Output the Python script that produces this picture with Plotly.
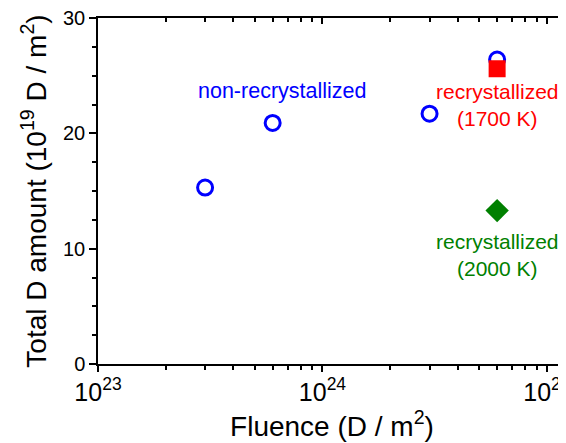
import numpy as np
import plotly.graph_objects as go

# Data
nonrx_fluence = [3e23, 6e23, 3e24, 6e24]
nonrx_amount = [15.3, 20.9, 21.7, 26.4]
rx1700_fluence = [6e24]
rx1700_amount = [25.6]
rx2000_fluence = [6e24]
rx2000_amount = [13.3]

BLUE = "rgb(0,0,255)"
RED = "rgb(255,0,0)"
GREEN = "rgb(0,128,0)"
FONT = "Liberation Sans, Arial, sans-serif"

fig = go.Figure()
fig.add_trace(go.Scatter(
    x=nonrx_fluence, y=nonrx_amount, mode="markers",
    marker=dict(symbol="circle-open", size=15, color=BLUE, line=dict(width=3, color=BLUE)),
    showlegend=False))
fig.add_trace(go.Scatter(
    x=rx1700_fluence, y=rx1700_amount, mode="markers",
    marker=dict(symbol="square", size=17, color=RED, line=dict(width=0)),
    showlegend=False))
fig.add_trace(go.Scatter(
    x=rx2000_fluence, y=rx2000_amount, mode="markers",
    marker=dict(symbol="diamond", size=18, color=GREEN, line=dict(width=0)),
    showlegend=False))
# invisible trace for mirror axes
fig.add_trace(go.Scatter(x=[1e24], y=[10], xaxis="x2", yaxis="y2", mode="markers",
                         marker=dict(opacity=0), showlegend=False, hoverinfo="skip"))

xr = [23, 25.085]
yr = [0, 30]
axline = dict(showline=True, linecolor="black", linewidth=1.5, showgrid=False, zeroline=False,
              automargin=False)

# page body has an 8px margin, so the figure is sized/offset to compensate
fig.update_layout(
    width=558, height=435,
    margin=dict(l=90, r=0, t=10, b=79),
    paper_bgcolor="white", plot_bgcolor="white",
    font=dict(family=FONT, color="black"),
    xaxis=dict(type="log", range=xr, dtick=1, exponentformat="power",
               ticks="outside", ticklen=6, tickwidth=1.5, tickcolor="black",
               minor=dict(ticks="outside", ticklen=4, tickwidth=1.5, tickcolor="black", dtick="D1", showgrid=False),
               tickfont=dict(size=20), ticklabeloverflow="allow",
               title=dict(text="Fluence (D / m<sup>2</sup>)", font=dict(size=28), standoff=2),
               **axline),
    yaxis=dict(range=yr, dtick=10, ticks="outside", ticklen=7, tickwidth=1.5, tickcolor="black",
               minor=dict(ticks="outside", ticklen=4, tickwidth=1.5, tickcolor="black", dtick=2.5, showgrid=False),
               tickfont=dict(size=20), ticklabeloverflow="allow",
               title=dict(text="Total D amount (10<sup>19</sup> D / m<sup>2</sup>)", font=dict(size=28), standoff=8),
               **axline),
    xaxis2=dict(type="log", range=xr, dtick=1, overlaying="x", side="top", showticklabels=False,
                ticks="inside", ticklen=6, tickwidth=1.5, tickcolor="black",
                minor=dict(ticks="inside", ticklen=4, tickwidth=1.5, tickcolor="black", dtick="D1", showgrid=False),
                **axline),
    yaxis2=dict(range=yr, dtick=10, overlaying="y", side="right", showticklabels=False,
                ticks="inside", ticklen=7, tickwidth=1.5, tickcolor="black",
                minor=dict(ticks="inside", ticklen=4, tickwidth=1.5, tickcolor="black", dtick=2.5, showgrid=False),
                **axline),
)

fig.add_annotation(x=np.log10(6.6e23), y=23.7, text="non-recrystallized", showarrow=False,
                   font=dict(size=21.5, color=BLUE))
fig.add_annotation(x=np.log10(6e24), y=22.5, text="recrystallized<br>(1700 K)", showarrow=False,
                   font=dict(size=21, color=RED))
fig.add_annotation(x=np.log10(6e24), y=9.45, text="recrystallized<br>(2000 K)", showarrow=False,
                   font=dict(size=21, color=GREEN))

fig.write_html("out.html")
